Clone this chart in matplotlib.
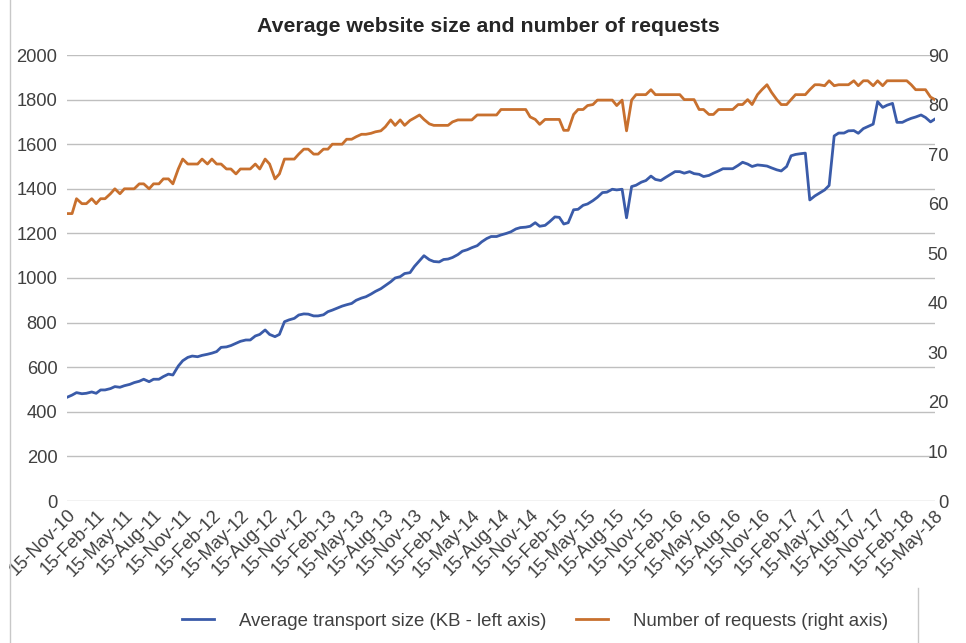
import matplotlib
matplotlib.use('Agg')
import matplotlib.pyplot as plt
import matplotlib.transforms as mtransforms
from matplotlib.lines import Line2D
import pandas as pd

# HTTP Archive style semi-monthly crawls (1st and 15th), 15-Nov-10 .. 15-May-18
months = pd.date_range('2010-11-01', '2018-05-01', freq='MS')
dates = []
for m in months:
    dates.append(m + pd.Timedelta(days=14))
    nxt = m + pd.offsets.MonthBegin(1)
    if nxt <= pd.Timestamp('2018-05-01'):
        dates.append(nxt)

# average transport size, KB (left axis)
size_kb = [
    465, 475, 486, 481, 483, 489, 483, 498, 498, 504,
    513, 510, 517, 523, 531, 537, 546, 535, 546, 546,
    558, 569, 565, 605, 629, 644, 650, 647, 653, 658,
    663,
    670, 689, 691, 697, 707, 716, 722, 722, 740, 747,
    767, 747, 737, 747, 804, 812, 819, 834, 839, 838,
    830, 830, 835, 849, 856, 864, 874, 880, 886, 900,
    910, 916, 928, 940, 952, 966, 983, 1000, 1006, 1020,
    1024, 1052, 1078, 1100, 1082, 1074, 1072, 1083, 1085, 1092,
    1105, 1120, 1127, 1136, 1145, 1162, 1177, 1186, 1186, 1193,
    1200, 1207, 1220, 1226, 1228, 1232, 1248, 1232, 1236, 1252,
    1274, 1272, 1242, 1248, 1306, 1308, 1326, 1332, 1347, 1362,
    1383, 1385, 1398, 1395, 1398, 1270, 1410, 1416, 1430, 1437,
    1457, 1442, 1437, 1450, 1465, 1477, 1477, 1470, 1477, 1468,
    1465, 1455, 1460, 1470, 1480, 1490, 1490, 1490, 1505, 1519,
    1511, 1500, 1507, 1505, 1502, 1494, 1485, 1480, 1500, 1548,
    1554, 1557, 1560, 1350, 1368, 1380, 1395, 1415, 1637, 1650,
    1650, 1660, 1661, 1649, 1670, 1679, 1690, 1791, 1765, 1775,
    1783, 1698, 1698, 1708, 1716, 1722, 1731, 1720, 1700, 1713,
]

# number of requests (right axis)
requests = [
    58, 58, 61, 60, 60, 61, 60, 61, 61, 62,
    63, 62, 63, 63, 63, 64, 64, 63, 64, 64,
    65, 65, 64, 67, 69, 68, 68, 68, 69, 68,
    69,
    68, 68, 67, 67, 66, 67, 67, 67, 68, 67,
    69, 68, 65, 66, 69, 69, 69, 70, 71, 71,
    70, 70, 71, 71, 72, 72, 72, 73, 73, 73.5,
    74, 74, 74.2, 74.5, 74.7, 75.5, 76.9, 75.8, 76.9, 75.8,
    76.8, 77.3, 77.9, 77, 76.1, 75.8, 75.8, 75.8, 75.8, 76.5,
    76.9, 76.9, 76.9, 76.9, 77.9, 77.9, 77.9, 77.9, 77.9, 79,
    79, 79, 79, 79, 79, 77.5, 77, 76, 77, 77,
    77, 77, 74.8, 74.8, 78, 79, 79, 79.8, 80, 80.9,
    80.9, 80.9, 80.9, 79.8, 80.9, 74.7, 80.9, 82, 82, 82,
    83, 82, 82, 82, 82, 82, 82, 81, 81, 81,
    79, 79, 78, 78, 79, 79, 79, 79, 80, 80,
    81, 80, 82, 83, 84, 82.5, 81, 80, 80, 81,
    82, 82, 82, 83, 84, 84, 83.8, 84.8, 83.8, 84,
    84, 84, 84.8, 83.8, 84.8, 84.8, 83.8, 84.8, 83.8, 84.8,
    84.8, 84.8, 84.8, 84.8, 84, 83, 83, 83, 81.5, 81,
]

tick_dates = pd.date_range('2010-11-01', '2018-05-01', freq='3MS') + pd.Timedelta(days=14)
tick_labels = [d.strftime('%d-%b-%y') for d in tick_dates]

title = 'Average website size and number of requests'
label_size = 'Average transport size (KB - left axis)'
label_req = 'Number of requests (right axis)'

blue = '#3a5ba9'
orange = '#c8702e'
txt = '#404040'

plt.rcParams['font.family'] = ['Liberation Sans', 'DejaVu Sans']

W, H = 966, 643
fig = plt.figure(figsize=(W / 100, H / 100), dpi=100)
ax = fig.add_axes([67 / W, 1 - 501 / H, 868 / W, 446 / H])
ax2 = ax.twinx()

ax.plot(dates, size_kb, color=blue, lw=2.0, solid_joinstyle='round')
ax2.plot(dates, requests, color=orange, lw=2.0, solid_joinstyle='round')

ax.set_xlim(dates[0], dates[-1])
ax.set_ylim(0, 2000)
ax.set_yticks(range(0, 2001, 200))
ax2.set_ylim(0, 90)
ax2.set_yticks(range(0, 91, 10))

ax.yaxis.grid(True, color='#bfbfbf', lw=1.0)
ax.set_axisbelow(True)
for a in (ax, ax2):
    for s in a.spines.values():
        s.set_visible(False)
    a.tick_params(length=0, labelsize=13.2, labelcolor=txt)
ax.tick_params(axis='y', pad=7)
# right-hand labels are right-aligned just outside the plot
ax2.tick_params(axis='y', pad=9.5)
for lab in ax2.get_yticklabels():
    lab.set_horizontalalignment('right')

ax.set_xticks(tick_dates)
ax.set_xticklabels(tick_labels, rotation=45, ha='right', rotation_mode='anchor')
shift = mtransforms.ScaledTranslation(8 / 72, 0, fig.dpi_scale_trans)
for lab in ax.get_xticklabels():
    lab.set_transform(lab.get_transform() + shift)
ax.tick_params(axis='x', pad=4)

fig.text(488 / W, 1 - 27 / H, title, ha='center', va='center',
         fontsize=15.3, fontweight='bold', color='#262626')

handles = [Line2D([], [], color=blue, lw=2.0), Line2D([], [], color=orange, lw=2.0)]
fig.legend(handles, [label_size, label_req], loc='center', ncol=2,
           bbox_to_anchor=(535 / W, 1 - 621 / H), frameon=False,
           fontsize=13.4, labelcolor=txt, handlelength=1.72,
           handletextpad=1.34, columnspacing=1.6)

# chart-area border remnants
fig.add_artist(Line2D([10 / W, 10 / W], [0, 1], color='#c8c8c8', lw=1.0))
fig.add_artist(Line2D([918 / W, 918 / W], [0, 1 - 588 / H], color='#c8c8c8', lw=1.0))

fig.savefig('out.png', dpi=100)
